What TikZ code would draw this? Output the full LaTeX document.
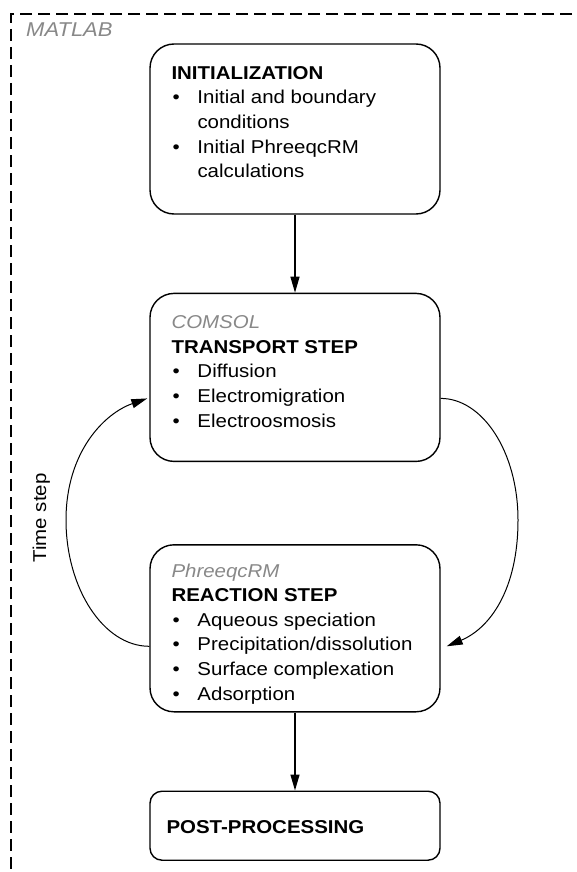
\documentclass[tikz,border=0pt]{standalone}
\usepackage{fontspec}
\setmainfont[FakeStretch=1.1]{Liberation Sans}
\usetikzlibrary{arrows.meta, calc, positioning}
\definecolor{toolgray}{RGB}{136,136,136}
\newcommand{\bul}{\hspace{1pt}\textbullet}

\begin{document}
\begin{tikzpicture}[
    x=1pt, y=-1pt, % pixel-like units, y downwards
    >={Triangle[length=16pt,width=9pt]}, % Set default arrow tip style
    stepbox/.style={draw, line width=1.4pt, rounded corners=24pt, minimum width=290pt, inner sep=0pt}, % Style for step boxes
    steptext/.style={anchor=base west, inner sep=0pt, font=\fontsize{18.6}{24.6}\selectfont},
    tool/.style={toolgray, font=\fontsize{18.6}{24.6}\selectfont\itshape},
    flow/.style={->, line width=1.3pt},
    cycleflow/.style={->, line width=1pt},
    matlabframe/.style={line width=1.3pt, dash pattern=on 12pt off 6pt}
]
    \useasboundingbox (0,0) rectangle (576,872);

    % --- Frame ---
    \draw[matlabframe] (590,14) -| (11,890);
    \node[tool, anchor=base west, inner sep=0pt, font=\fontsize{20}{24}\selectfont\itshape] (matlab) at (26,37) {MATLAB};

    % --- Boxes ---
    \node[stepbox, minimum height=170pt] (init) at (295,129) {};
    \node[stepbox, minimum height=168pt, below=78pt of init] (transport) {};
    \node[stepbox, minimum height=167pt, below=82pt of transport] (reaction) {};
    \node[stepbox, minimum height=69pt, rounded corners=12pt, below=78pt of reaction] (post) {};

    % --- Texts ---
    \node[steptext] (inittext) at ([xshift=22pt,yshift=-36pt]init.north west) {%
        \begin{tabular}[t]{@{}p{26pt}@{}l@{}}
            \multicolumn{2}{@{}l@{}}{\bfseries INITIALIZATION}\\
            \bul & Initial and boundary\\
                 & conditions\\
            \bul & Initial PhreeqcRM\\
                 & calculations
        \end{tabular}};
    \node[steptext] (transporttext) at ([xshift=22pt,yshift=-36pt]transport.north west) {%
        \begin{tabular}[t]{@{}p{26pt}@{}l@{}}
            \multicolumn{2}{@{}l@{}}{\color{toolgray}\itshape COMSOL}\\
            \multicolumn{2}{@{}l@{}}{\bfseries TRANSPORT STEP}\\
            \bul & Diffusion\\
            \bul & Electromigration\\
            \bul & Electroosmosis
        \end{tabular}};
    \node[steptext] (reactiontext) at ([xshift=22pt,yshift=-33pt]reaction.north west) {%
        \begin{tabular}[t]{@{}p{26pt}@{}l@{}}
            \multicolumn{2}{@{}l@{}}{\color{toolgray}\itshape PhreeqcRM}\\
            \multicolumn{2}{@{}l@{}}{\bfseries REACTION STEP}\\
            \bul & Aqueous speciation\\
            \bul & Precipitation/dissolution\\
            \bul & Surface complexation\\
            \bul & Adsorption
        \end{tabular}};
    \node[steptext] (posttext) at ([xshift=17pt,yshift=-43pt]post.north west) {\bfseries POST-PROCESSING};

    % --- Main flow ---
    \draw[flow] (init) -- (transport);
    \draw[flow] (reaction) -- (post);

    % --- Time step loop ---
    \coordinate (tsR) at ([yshift=-21pt]transport.east);
    \coordinate (rsR) at ([xshift=6pt,yshift=-18pt]reaction.east);
    \coordinate (rsL) at ([yshift=-18pt]reaction.west);
    \coordinate (tsL) at ([xshift=-2pt,yshift=-21pt]transport.west);
    \coordinate (rmax) at (518,520);
    \coordinate (lmax) at (66,520);
    \draw[cycleflow] (tsR) .. controls +(42,0) and +(0,-68) .. (rmax)
        .. controls +(0,70) and +(43,-18) .. (rsR);
    \draw[cycleflow] (rsL) .. controls +(-46,0) and +(0,68) .. (lmax)
        .. controls +(0,-68) and +(-43,15) .. (tsL);
    \node[rotate=90, anchor=base, inner sep=0pt, font=\fontsize{18.6}{24.6}\selectfont] (timestep) at (46,518) {Time step};

\end{tikzpicture}
\end{document}
